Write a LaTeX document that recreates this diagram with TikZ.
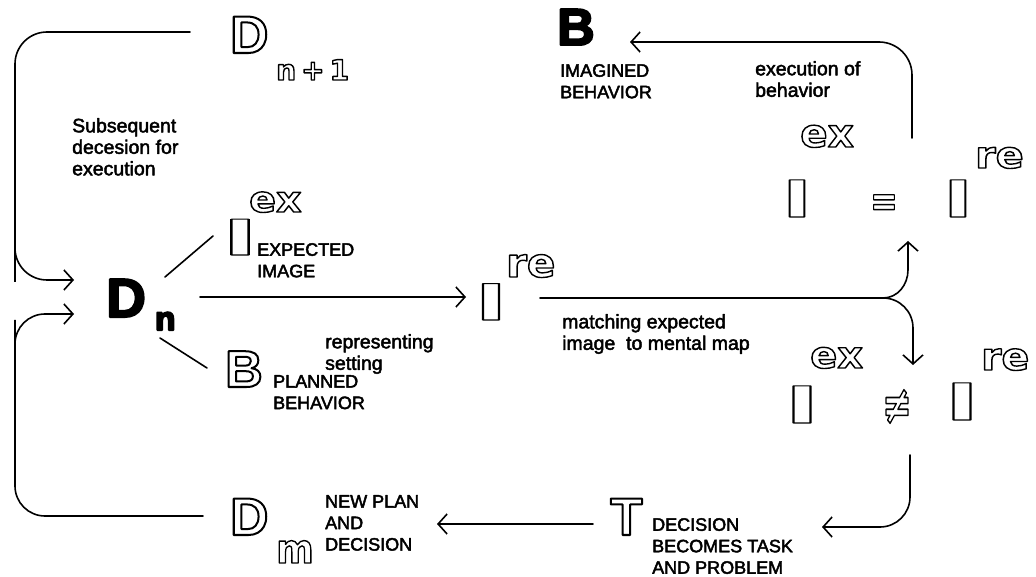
\documentclass[tikz,border=0pt]{standalone}
\usepackage{fontspec}
\usepackage{graphicx}
\setmainfont{Liberation Sans}
\newfontfamily\roundf{DejaVu Sans}
\usetikzlibrary{arrows.meta}
% outlined and heavy lettering through the PDF text render mode
\newcommand\hollowW[2]{\special{pdf:literal direct 1 Tr #1 w 1 j}#2\special{pdf:literal direct 0 Tr}}
\newcommand\hollow[1]{\hollowW{2}{#1}}
\newcommand\solid[1]{\special{pdf:literal direct 2 Tr 2 w 1 j}#1\special{pdf:literal direct 0 Tr}}
\newcommand\ink{\special{pdf:literal direct 2 Tr 0.45 w 1 j}}
% a hollow upright bar: the letter I widened, its outline kept thin
\newcommand\barI[1]{\scalebox{#1}[1]{\hollowW{1}{I}}}
% outlined round lowercase, widened by a factor
\newcommand\rnd[2]{\scalebox{#1}[1]{\hollowW{1.4}{#2}}}
\newcommand\bigf[1]{\fontsize{#1}{#1}\bfseries\selectfont}
\newcommand\rndf[1]{\fontsize{#1}{#1}\roundf\bfseries\selectfont}
\tikzset{
  ln/.style={line width=1.6pt, line cap=round},
  arr/.style={ln, -{Straight Barb[length=9pt,width=20pt,line width=1.6pt]}},
  lab/.style={inner sep=0pt, anchor=north west, align=left, font=\fontsize{18}{21.5}\selectfont, execute at begin node=\ink},
  labl/.style={lab, font=\fontsize{19.5}{21.5}\selectfont},
  glyph/.style={inner sep=0pt, anchor=base west},
  stem/.style={inner sep=0pt, anchor=base},
}
\begin{document}
\begin{tikzpicture}[x=1pt,y=-1pt]
\useasboundingbox (0,0) rectangle (1036,577);

% ---- decision D_n and its two parts
\node[glyph, font=\bigf{55}] (Dn) at (106,317) {\solid{D}};
\node[glyph, font=\bigf{33}] (Dnsub) at (155,330) {\solid{n}};

\node[stem, font=\bigf{52}] (Iex) at (240,255) {\barI{2.3}};
\node[glyph, font=\rndf{36}] (Iexsup) at (249,212) {\rnd{1.1}{ex}};
\node[lab] (Iexlab) at (257,243) {EXPECTED\\IMAGE};

\node[glyph, font=\bigf{52}] (Bpl) at (225,387) {\hollow{B}};
\node[lab] (Bpllab) at (273,375) {PLANNED\\BEHAVIOR};

\coordinate (dnu) at (165,277);
\coordinate (exl) at (213,236);
\coordinate (dnl) at (160,338);
\coordinate (bpl) at (207,368);
\draw[ln] (dnu) -- (exl);
\draw[ln] (dnl) -- (bpl);

% ---- represented image
\node[stem, font=\bigf{53}] (Ire) at (491,320) {\barI{2.1}};
\node[glyph, font=\rndf{40}] (Iresup) at (506,277) {\rnd{1.05}{re}};
\coordinate (dnout) at (200,297);
\coordinate (reinto) at (466,297);
\draw[arr] (dnout) -- (reinto);
\node[labl] (replab) at (325,334) {representing\\setting};

% ---- D_{n+1}
\node[glyph, font=\bigf{53}] (Dnext) at (230,53) {\hollow{D}};
\node[glyph, font=\rndf{28}] (Dnextsub) at (276,80) {\rnd{1}{n\hspace{5pt}+\hspace{5pt}1}};
\node[labl] (sublab) at (72,118) {Subsequent\\decesion for\\execution};

% ---- left feedback loops into D_n
\coordinate (topstart) at (190,32);
\coordinate (inup) at (74,280);
\draw[arr, rounded corners=32pt] (topstart) -| (15,250) |- (inup);
\coordinate (botstart) at (203,516);
\coordinate (indown) at (74,314);
\draw[arr, rounded corners=30pt] (botstart) -| (15,350) |- (indown);

% ---- matching branch
\coordinate (reout) at (540,298);
\coordinate (split) at (883,298);
\coordinate (uptip) at (908,241);
\coordinate (downtip) at (913,365);
\draw[ln] (reout) -- (split);
\draw[arr] (split) to[out=0,in=-90] (908,270) -- (uptip);
\draw[arr] (split) to[out=0,in=90] (913,328) -- (downtip);
\node[labl] (matchlab) at (562,314) {matching expected\\image~ to mental map};

% ---- I^ex = I^re
\node[stem, font=\bigf{54}] (Ieq1) at (797,217) {\barI{1.9}};
\node[glyph, font=\rndf{39}] (Ieq1sup) at (800,147) {\rnd{1.04}{ex}};
\node[stem, font=\rndf{44}] (eq) at (884,216) {\scalebox{0.75}[1]{\hollowW{1.4}{=}}};
\node[stem, font=\bigf{54}] (Ieq2) at (958,217) {\barI{1.9}};
\node[glyph, font=\rndf{37}] (Ieq2sup) at (975,168) {\rnd{1.12}{re}};

% ---- execution of behavior
\coordinate (exstart) at (912,138);
\coordinate (behtip) at (630,42);
\node[glyph, font=\bigf{52}] (Bim) at (557,45) {\solid{B}};
\node[lab] (Bimlab) at (560,64) {IMAGINED\\BEHAVIOR};
\draw[arr, rounded corners=33pt] (exstart) |- (behtip);
\node[labl] (execlab) at (755,61) {execution of\\behavior};

% ---- I^ex =/= I^re
\node[stem, font=\bigf{54}] (Ine1) at (802,423) {\barI{2.2}};
\node[glyph, font=\rndf{37}] (Ine1sup) at (810,368) {\rnd{1.08}{ex}};
\node[stem, font=\rndf{44}] (ne) at (897,423) {\scalebox{0.8}[1.2]{\hollowW{1.4}{≠}}};
\node[stem, font=\bigf{54}] (Ine2) at (962,420) {\barI{2.2}};
\node[glyph, font=\rndf{38}] (Ine2sup) at (981,370) {\rnd{1.08}{re}};

% ---- task and new plan
\coordinate (nestart) at (910,455);
\coordinate (tasktip) at (822,527);
\draw[arr, rounded corners=30pt] (nestart) |- (tasktip);
\node[glyph, font=\bigf{53}] (T) at (610,535) {\hollow{T}};
\node[lab] (Tlab) at (652,518) {DECISION\\BECOMES TASK\\AND PROBLEM};
\coordinate (tout) at (593,524);
\coordinate (plantip) at (437,524);
\draw[arr] (tout) -- (plantip);
\node[glyph, font=\bigf{53}] (Dm) at (230,535) {\hollow{D}};
\node[glyph, font=\rndf{40}] (Dmsub) at (276,563) {\rnd{0.9}{m}};
\node[lab] (Dmlab) at (325,495) {NEW PLAN\\AND\\DECISION};
\end{tikzpicture}
\end{document}
